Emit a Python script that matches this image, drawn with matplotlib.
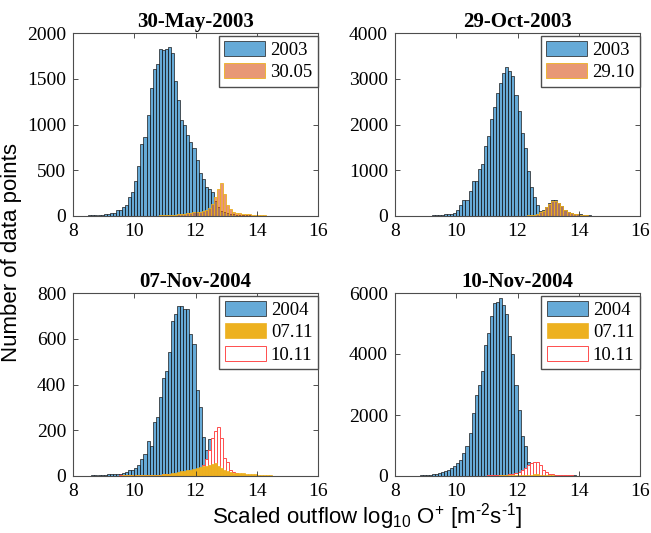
import numpy as np
import matplotlib
matplotlib.use("Agg")
import matplotlib.pyplot as plt

plt.rcParams["font.family"] = "Liberation Serif"
plt.rcParams["mathtext.fontset"] = "custom"
plt.rcParams["mathtext.rm"] = "Liberation Sans"
plt.rcParams["mathtext.default"] = "rm"

# histogram bins: 0.1 wide from 8 to 16
bin_w = 0.1
edges = np.round(np.arange(8.0, 16.0, bin_w), 1)

# counts per bin, each series listed from its first non-empty bin
y2003_a_start = 8.1
y2003_a = [2, 3, 4, 5, 6, 8, 10, 12, 15, 22, 25, 33, 36, 62, 69, 98, 124, 208, 262,
           379, 543, 783, 864, 1100, 1403, 1603, 1665, 1830, 1818, 1828, 1846, 1780,
           1470, 1269, 1050, 995, 885, 810, 738, 615, 470, 408, 317, 299, 260, 160,
           100, 60, 40, 30, 25, 20, 15, 12, 10, 8, 6, 5, 4, 3, 2, 2, 1, 1]
d3005_start = 10.4
d3005 = [2, 3, 4, 5, 6, 7, 8, 10, 12, 15, 18, 22, 26, 30, 35, 40, 45, 45, 55, 65,
         85, 135, 208, 290, 360, 244, 117, 80, 44, 35, 30, 25, 20, 18, 15, 12, 15,
         8, 6, 4, 2]

y2003_b_start = 8.8
y2003_b = [3, 5, 8, 10, 12, 15, 20, 30, 35, 40, 51, 66, 124, 249, 358, 358, 548, 768,
           768, 1038, 1133, 1528, 1747, 2113, 2390, 2683, 2902, 3121, 3253, 3180, 3070,
           2646, 2300, 1806, 1477, 987, 636, 417, 234, 110, 125, 205, 280, 340, 345,
           290, 220, 140, 90, 60, 50, 40, 35, 25, 18, 12, 6, 3]
d2910_start = 11.6
d2910 = [2, 3, 4, 5, 6, 8, 10, 15, 20, 30, 50, 80, 115, 190, 265, 320, 330, 280, 210,
         130, 80, 55, 45, 35, 30, 20, 15, 10, 5]

y2004_a_start = 8.5
y2004_a = [2, 3, 3, 4, 5, 6, 8, 8, 10, 8, 10, 14, 18, 25, 27, 35, 50, 76, 94, 155,
           130, 235, 260, 347, 430, 460, 540, 676, 708, 744, 744, 732, 732, 620, 575,
           376, 303, 171, 113, 160, 60, 30, 20, 15, 12, 10, 8, 6, 5, 4, 3, 3, 2, 2, 1, 1]
d0711_start = 9.0
d0711 = [1, 1, 2, 2, 2, 2, 3, 3, 3, 3, 4, 4, 4, 5, 5, 5, 5, 5, 6, 7, 8, 10, 12, 14,
         17, 20, 22, 25, 28, 30, 34, 38, 42, 45, 48, 52, 55, 42, 35, 28, 22, 18, 15,
         14, 13, 12, 10, 9, 8, 7, 6, 5, 5, 4, 3, 2, 1]
d1011_a_start = 8.6
d1011_a = [1, 1, 1, 1, 2, 2, 2, 2, 2, 3, 3, 3, 3, 3, 4, 4, 4, 4, 5, 5, 5, 6, 6, 7, 7,
           8, 9, 10, 11, 12, 13, 14, 15, 16, 18, 20, 50, 75, 115, 165, 195, 215, 165,
           80, 60, 25, 18, 12, 10, 8, 6, 5, 4, 3, 2, 2, 1, 1, 1]

y2004_b_start = 8.4
y2004_b = [3, 5, 8, 12, 18, 25, 35, 45, 60, 80, 100, 130, 160, 210, 265, 330, 440,
           540, 750, 1000, 1400, 2050, 2650, 3000, 3450, 4300, 4700, 5250, 5680, 5700,
           5850, 5600, 5300, 4600, 4000, 3000, 2150, 1300, 1000, 470, 430, 390, 250,
           140, 80, 60, 45, 40, 35, 30, 28, 25, 22, 20, 18, 15, 12, 10, 8, 6, 4, 2]
d1011_b_start = 8.6
d1011_b = [1, 1, 2, 2, 3, 3, 4, 4, 5, 5, 6, 6, 7, 8, 8, 9, 10, 10, 11, 12, 13, 14, 15,
           16, 18, 20, 22, 25, 28, 32, 40, 50, 65, 85, 130, 200, 275, 350, 428, 460,
           455, 350, 208, 120, 77, 50, 40, 35, 30, 25, 20, 18, 15, 12, 10, 8, 6, 4, 3, 2]

titles = ["30-May-2003", "29-Oct-2003", "07-Nov-2004", "10-Nov-2004"]
ylims = [2000, 4000, 800, 6000]
ysteps = [500, 1000, 200, 2000]


def full(start, counts):
    out = np.zeros(len(edges))
    i0 = int(round((start - 8.0) / bin_w))
    out[i0:i0 + len(counts)] = counts
    return out


blue_face = (0.0, 0.447, 0.741, 0.6)
orange_face = (0.85, 0.325, 0.098, 0.6)
yellow = (0.929, 0.694, 0.125)
red_edge = "#ff4d4d"

fig = plt.figure(figsize=(6.51, 5.33), dpi=100)
W, H = 651, 533
boxes = [(73, 33), (395, 33), (73, 293), (395, 293)]
axes = []
for (x0, y0) in boxes:
    ax = fig.add_axes([x0 / W, (H - y0 - 183) / H, 245 / W, 183 / H])
    axes.append(ax)


def year_bars(ax, start, counts, label):
    return ax.bar(edges, full(start, counts), width=bin_w, align="edge",
                  color=blue_face, edgecolor="0.1", linewidth=0.5, label=label)


handles = []

# top row: whole year vs. one storm day
h1 = year_bars(axes[0], y2003_a_start, y2003_a, "2003")
h2 = axes[0].bar(edges, full(d3005_start, d3005), width=bin_w, align="edge",
                 color=orange_face, edgecolor=yellow, linewidth=0.6, label="30.05")
handles.append([h1, h2])

h1 = year_bars(axes[1], y2003_b_start, y2003_b, "2003")
h2 = axes[1].bar(edges, full(d2910_start, d2910), width=bin_w, align="edge",
                 color=orange_face, edgecolor=yellow, linewidth=0.6, label="29.10")
handles.append([h1, h2])

# bottom row: 2004 with both November days
for ax, ys, yc, rs, rc in [(axes[2], y2004_a_start, y2004_a, d1011_a_start, d1011_a),
                           (axes[3], y2004_b_start, y2004_b, d1011_b_start, d1011_b)]:
    h1 = year_bars(ax, ys, yc, "2004")
    h3 = ax.bar(edges, full(rs, rc), width=bin_w, align="edge",
                color="white", edgecolor=red_edge, linewidth=0.7, label="10.11")
    h2 = ax.bar(edges, full(d0711_start, d0711), width=bin_w, align="edge",
                color=yellow, edgecolor=yellow, linewidth=0.5, label="07.11")
    handles.append([h1, h2, h3])

for ax, hs, title, ym, ys in zip(axes, handles, titles, ylims, ysteps):
    ax.set_xlim(8, 16)
    ax.set_ylim(0, ym)
    ax.set_xticks([8, 10, 12, 14, 16])
    ax.set_yticks(np.arange(0, ym + 1, ys))
    ax.set_title(title, fontsize=15, fontweight="bold", pad=4)
    ax.tick_params(direction="in", top=True, right=True, length=3.5, width=0.6,
                   labelsize=14, color="0.2", pad=5)
    for s in ax.spines.values():
        s.set_color("0.3")
        s.set_linewidth(0.8)
    ax.legend(handles=hs, loc="upper right", bbox_to_anchor=(1.0, 0.985),
              borderaxespad=0.0, fontsize=13.5, handlelength=2.2, handleheight=0.85,
              handletextpad=0.25, borderpad=0.3, labelspacing=0.22, fancybox=False,
              edgecolor="0.3", framealpha=1)

fig.text(12 / W, 1 - 252 / H, "Number of data points", rotation=90,
         ha="center", va="center", fontsize=16, family="Liberation Sans")
fig.text(367 / W, 1 - 517 / H,
         r"Scaled outflow log$_{10}$ O$^{+}$ [m$^{\text{-2}}$s$^{\text{-1}}$]",
         ha="center", va="center", fontsize=16, family="Liberation Sans")

fig.savefig("out.png", dpi=100)
